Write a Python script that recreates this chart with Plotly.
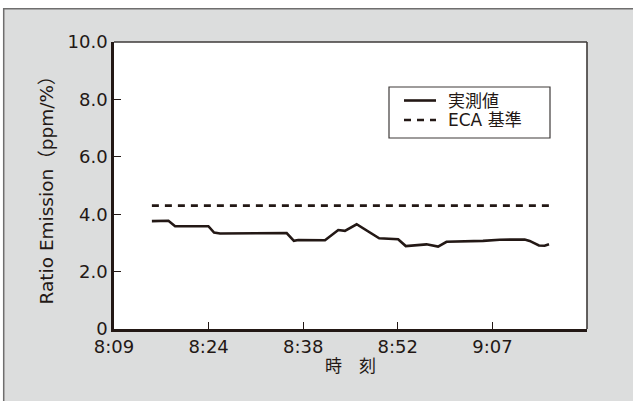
import plotly.graph_objects as go

# ---- data ----
times = ["8:15:22", "8:17:53", "8:18:54", "8:23:58", "8:24:50", "8:25:45",
         "8:35:53", "8:36:59", "8:37:39", "8:41:43", "8:43:44", "8:44:45",
         "8:46:32", "8:49:58", "8:52:51", "8:54:01", "8:57:10", "8:58:56",
         "9:00:13", "9:05:46", "9:08:19", "9:12:07", "9:12:52", "9:14:17",
         "9:15:09", "9:15:49"]
measured = [3.76, 3.77, 3.58, 3.58, 3.36, 3.33,
            3.34, 3.07, 3.10, 3.09, 3.45, 3.42,
            3.65, 3.16, 3.13, 2.89, 2.95, 2.87,
            3.04, 3.07, 3.11, 3.12, 3.07, 2.91,
            2.90, 2.95]
eca_times = ["8:15:22", "9:15:49"]
eca_values = [4.3, 4.3]

x_tick_labels = ["8:09", "8:24", "8:38", "8:52", "9:07"]
y_tick_values = [0, 2, 4, 6, 8, 10]
y_tick_labels = ["0", "2.0", "4.0", "6.0", "8.0", "10.0"]

series_names = ["実測値", "ECA 基準"]
x_title = "時　刻"
y_title = "Ratio Emission（ppm/%）"


def to_minutes(s):
    h, m, sec = (int(v) for v in s.split(":"))
    return h * 60 + m + sec / 60.0


x_meas = [to_minutes(t) for t in times]
x_eca = [to_minutes(t) for t in eca_times]

# axis: 0.34 day .. 0.39 day (Excel-style time axis)
x_start = 0.34 * 1440
x_step = 0.01 * 1440
x_range = [x_start, x_start + 5 * x_step]
x_tickvals = [x_start + i * x_step for i in range(len(x_tick_labels))]

INK = "#231815"
FONT = "DejaVu Sans, Noto Sans CJK JP, sans-serif"

W, H = 633, 401
ML, MR, MT, MB = 114, 46, 42, 72
PW, PH = W - ML - MR, H - MT - MB


def px(x):
    return (x - ML) / PW


def py(y):
    return (H - MB - y) / PH


line_styles = [dict(color=INK, width=2.6), dict(color=INK, width=2.6, dash="7px,6px")]

fig = go.Figure()
fig.add_trace(go.Scatter(x=x_meas, y=measured, mode="lines", name=series_names[0],
                         line=line_styles[0], showlegend=False))
fig.add_trace(go.Scatter(x=x_eca, y=eca_values, mode="lines", name=series_names[1],
                         line=line_styles[1], showlegend=False))

shapes = [
    # white margin strips outside the grey panel
    dict(type="rect", xref="paper", yref="paper", x0=px(-5), x1=px(W + 5), y0=py(-5), y1=py(8),
         fillcolor="white", line=dict(width=0), layer="above"),
    dict(type="rect", xref="paper", yref="paper", x0=px(-5), x1=px(3), y0=py(H + 5), y1=py(-5),
         fillcolor="white", line=dict(width=0), layer="above"),
    # panel frame (left + top)
    dict(type="line", xref="paper", yref="paper", x0=px(3.7), x1=px(3.7), y0=py(8), y1=py(H + 5),
         line=dict(color="#6f6e6e", width=1.5), layer="above"),
    dict(type="line", xref="paper", yref="paper", x0=px(3), x1=px(W + 5), y0=py(8.7), y1=py(8.7),
         line=dict(color="#6f6e6e", width=1.5), layer="above"),
    # plot area frame (top + right)
    dict(type="line", xref="paper", yref="paper", x0=0, x1=1, y0=1, y1=1,
         line=dict(color="#3e3a39", width=1.6), layer="above"),
    dict(type="line", xref="paper", yref="paper", x0=1, x1=1, y0=0, y1=1,
         line=dict(color="#3e3a39", width=1.6), layer="above"),
    # legend box
    dict(type="rect", xref="paper", yref="paper", x0=px(389), x1=px(550), y0=py(138), y1=py(87),
         fillcolor="white", line=dict(color="#3e3a39", width=1.2), layer="above"),
]

annotations = []
legend_rows = [100.5, 120.0]
for name, style, yrow in zip(series_names, line_styles, legend_rows):
    shapes.append(dict(type="line", xref="paper", yref="paper",
                       x0=px(404), x1=px(436), y0=py(yrow), y1=py(yrow),
                       line=style, layer="above"))
    annotations.append(dict(text=name, xref="paper", yref="paper", x=px(446), y=py(yrow),
                            xanchor="left", yanchor="middle", showarrow=False,
                            font=dict(size=17, family=FONT, color=INK)))

fig.update_layout(
    width=W, height=H,
    margin=dict(l=ML, r=MR, t=MT, b=MB, pad=0),
    paper_bgcolor="#dcdddd",
    plot_bgcolor="white",
    font=dict(family=FONT, color=INK, size=17),
    shapes=shapes,
    annotations=annotations,
    showlegend=False,
    xaxis=dict(
        range=x_range, tickmode="array", tickvals=x_tickvals, ticktext=x_tick_labels,
        showgrid=False, zeroline=False, showline=True, linecolor=INK, linewidth=2.6,
        ticks="inside", ticklen=7, tickwidth=1.4, tickcolor=INK,
        tickfont=dict(size=18, family=FONT, color=INK),
        title=dict(text=x_title, font=dict(size=17, family=FONT, color=INK), standoff=4),
        automargin=False,
    ),
    yaxis=dict(
        range=[0, 10], tickmode="array", tickvals=y_tick_values, ticktext=y_tick_labels,
        showgrid=False, zeroline=False, showline=True, linecolor=INK, linewidth=2.6,
        ticks="inside", ticklen=7, tickwidth=1.4, tickcolor=INK,
        tickfont=dict(size=18, family=FONT, color=INK),
        title=dict(text=y_title, font=dict(size=18.5, family=FONT, color=INK), standoff=10),
        automargin=False,
    ),
)

fig.write_html("out.html", config={"displayModeBar": False},
               post_script="document.body.style.margin='0';")
